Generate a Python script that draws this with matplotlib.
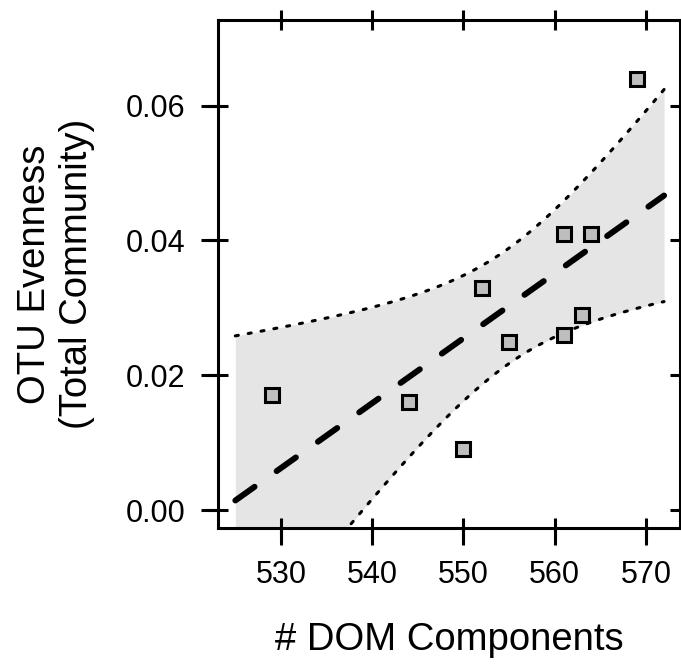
import numpy as np
import matplotlib
matplotlib.use("Agg")
import matplotlib.pyplot as plt
from matplotlib.ticker import FixedLocator

plt.rcParams['font.family'] = ['Liberation Sans', 'DejaVu Sans']
plt.rcParams['lines.scale_dashes'] = False

# Data
dom_components = np.array([529, 544, 550, 552, 555, 561, 561, 564, 563, 569])
otu_evenness = np.array([0.017, 0.016, 0.009, 0.033, 0.025, 0.041, 0.026, 0.041, 0.029, 0.064])

x_ticks = [530, 540, 550, 560, 570]
y_ticks = [0.00, 0.02, 0.04, 0.06]
y_tick_labels = ["0.00", "0.02", "0.04", "0.06"]

fit_range = (525, 572)
t_crit = 2.306  # t(0.975, df=8)

# Linear fit with 95% confidence band
n = len(dom_components)
slope, intercept = np.polyfit(dom_components, otu_evenness, 1)
resid = otu_evenness - (slope * dom_components + intercept)
s = np.sqrt(np.sum(resid ** 2) / (n - 2))
xm = dom_components.mean()
sxx = np.sum((dom_components - xm) ** 2)
xf = np.linspace(fit_range[0], fit_range[1], 200)
yf = slope * xf + intercept
se = s * np.sqrt(1.0 / n + (xf - xm) ** 2 / sxx)
lo = yf - t_crit * se
hi = yf + t_crit * se

fig = plt.figure(figsize=(6.81, 6.69), dpi=100)
W, H = 681, 669
ax = fig.add_axes([218 / W, 1 - 528 / H, (680.5 - 218) / W, (528 - 20) / H])

ax.fill_between(xf, lo, hi, color='#E5E5E5', linewidth=0, zorder=1)
ax.plot(xf, hi, color='black', lw=2.2, linestyle=(0, (2.2, 7.2)),
        dash_capstyle='round', zorder=2)
ax.plot(xf, lo, color='black', lw=2.2, linestyle=(0, (2.2, 7.2)),
        dash_capstyle='round', zorder=2)
ax.plot(xf, yf, color='black', lw=4.3, linestyle=(0, (17, 19.5)),
        dash_capstyle='round', zorder=3)
ax.plot(dom_components, otu_evenness, linestyle='none', marker='s',
        markersize=9.9, markerfacecolor='#BEBEBE', markeredgecolor='black',
        markeredgewidth=2.2, zorder=4)

ax.set_xlim(523.1, 573.8)
ax.set_ylim(-0.00267, 0.0727)

ax.set_xticks(x_ticks)
ax.set_yticks(y_ticks)
ax.set_yticklabels(y_tick_labels)
ax.xaxis.set_minor_locator(FixedLocator(x_ticks))
ax.yaxis.set_minor_locator(FixedLocator(y_ticks))
ax.xaxis.remove_overlapping_locs = False
ax.yaxis.remove_overlapping_locs = False

for sp in ax.spines.values():
    sp.set_linewidth(2.2)

ax.tick_params(which='major', direction='inout', length=14.4, width=2.2,
               top=True, right=True, labelsize=22, pad=16)
ax.tick_params(which='minor', direction='out', length=12.2, width=2.2,
               top=False, right=False)
ax.tick_params(axis='y', which='major', pad=16.5)

ax.set_xlabel('# DOM Components', fontsize=27.5, va='baseline')
ax.xaxis.set_label_coords(0.5, (528 - 650) / 508)
ax.set_ylabel('OTU Evenness\n(Total Community)', fontsize=27.5, va='center',
              linespacing=1.2)
ax.yaxis.set_label_coords((56 - 218) / 462.5, 0.5)

fig.savefig('out.png', dpi=100)
